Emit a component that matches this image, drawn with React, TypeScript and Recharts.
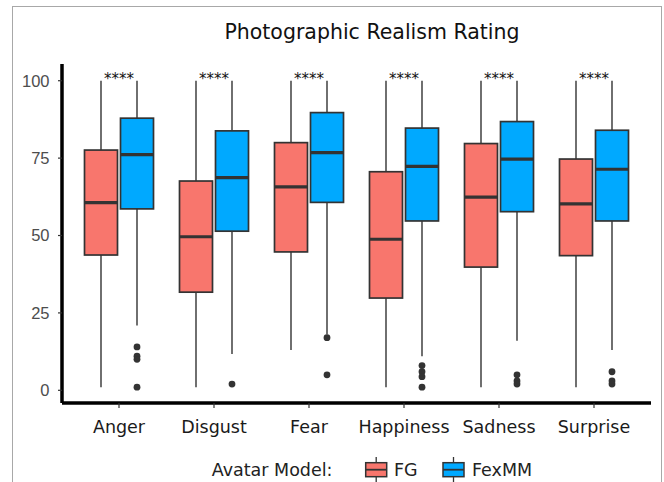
import React from 'react';
import { ComposedChart, Bar, XAxis, YAxis, Legend } from 'recharts';

const categories = ['Anger', 'Disgust', 'Fear', 'Happiness', 'Sadness', 'Surprise'];

const fgMin = [1, 1, 13, 1, 1, 1];
const fgQ1 = [43.7, 31.7, 44.7, 29.8, 39.8, 43.5];
const fgMedian = [60.6, 49.6, 65.7, 48.8, 62.4, 60.2];
const fgQ3 = [77.6, 67.6, 80, 70.6, 79.7, 74.7];
const fgMax = [100, 100, 100, 100, 100, 100];
const fgOutliers: number[][] = [[], [], [], [], [], []];

const fexMin = [20.9, 11.7, 18, 11, 16, 13];
const fexQ1 = [58.6, 51.4, 60.7, 54.7, 57.7, 54.7];
const fexMedian = [76.1, 68.7, 76.8, 72.3, 74.7, 71.4];
const fexQ3 = [87.9, 83.8, 89.7, 84.7, 86.8, 84];
const fexMax = [100, 100, 100, 100, 100, 100];
const fexOutliers: number[][] = [[14, 11, 10, 1], [2], [17, 5], [8, 6, 4.4, 1], [5, 3, 2], [6, 3, 2]];

const significance = ['****', '****', '****', '****', '****', '****'];
const yTicks = [0, 25, 50, 75, 100];
const seriesNames = ['FG', 'FexMM'];
const seriesColors = ['#F8766D', '#00A9FF'];

const makeStats = (i: number, mn: number[], q1: number[], md: number[], q3: number[], mx: number[], out: number[][]) => ({
  min: mn[i], q1: q1[i], median: md[i], q3: q3[i], max: mx[i], outliers: out[i],
});

const data = categories.map((c, i) => ({
  category: c,
  sig: significance[i],
  fg: makeStats(i, fgMin, fgQ1, fgMedian, fgQ3, fgMax, fgOutliers),
  fex: makeStats(i, fexMin, fexQ1, fexMedian, fexQ3, fexMax, fexOutliers),
  fgRange: [fgMin[i], fgMax[i]],
  fexRange: [fexMin[i], fexMax[i]],
}));

const EDGE = '#333333';

const makeShape = (series: 'fg' | 'fex', color: string) => (props: any) => {
  const { x, y, width, height, payload } = props;
  const s = payload[series];
  const k = height / (s.max - s.min);
  const toY = (v: number) => y + (s.max - v) * k;
  const cx = x + width / 2;
  return (
    <g>
      <line x1={cx} x2={cx} y1={toY(s.max)} y2={toY(s.q3)} stroke={EDGE} strokeWidth={1.4} />
      <line x1={cx} x2={cx} y1={toY(s.q1)} y2={toY(s.min)} stroke={EDGE} strokeWidth={1.4} />
      <rect x={x} y={toY(s.q3)} width={width} height={toY(s.q1) - toY(s.q3)} fill={color} stroke={EDGE} strokeWidth={1.7} />
      <line x1={x} x2={x + width} y1={toY(s.median)} y2={toY(s.median)} stroke={EDGE} strokeWidth={3.2} />
      {s.outliers.map((o: number, j: number) => (
        <circle key={j} cx={cx} cy={toY(o)} r={3.4} fill={EDGE} />
      ))}
      {series === 'fg' && (
        <text x={x + width + 1.5} y={toY(100) + 3} textAnchor="middle" fontFamily="DejaVu Sans" fontSize={15} fill="#111">
          {payload.sig}
        </text>
      )}
    </g>
  );
};

const KeyGlyph = ({ x, color }: { x: number; color: string }) => (
  <g>
    <line x1={x + 10.5} x2={x + 10.5} y1={5} y2={30} stroke={EDGE} strokeWidth={1.3} />
    <rect x={x} y={10.7} width={21} height={14} fill={color} stroke={EDGE} strokeWidth={1.5} />
    <line x1={x} x2={x + 21} y1={17.7} y2={17.7} stroke={EDGE} strokeWidth={1.8} />
  </g>
);

const LegendContent = () => (
  <svg width={664} height={30} style={{ display: 'block' }}>
    <text x={211.7} y={23.5} fontFamily="DejaVu Sans" fontSize={17.5} fill="#222">Avatar Model:</text>
    <KeyGlyph x={365.7} color={seriesColors[0]} />
    <text x={394} y={23.5} fontFamily="DejaVu Sans" fontSize={17.5} fill="#222">{seriesNames[0]}</text>
    <KeyGlyph x={443} color={seriesColors[1]} />
    <text x={472} y={23.5} fontFamily="DejaVu Sans" fontSize={17.5} fill="#222">{seriesNames[1]}</text>
  </svg>
);

export default function App() {
  return (
    <div style={{ position: 'absolute', left: 0, top: 0, width: 664, height: 482, background: '#fff', overflow: 'hidden' }}>
      <div style={{ position: 'absolute', left: 12, top: 6, width: 648, height: 500, borderLeft: '1.5px solid #a8a8a8', borderTop: '1.5px solid #a8a8a8', borderRight: '1.5px solid #a8a8a8' }} />
      <svg width={664} height={60} style={{ position: 'absolute', left: 0, top: 0 }}>
        <text x={372} y={39} textAnchor="middle" fontFamily="DejaVu Sans" fontSize={20.5} fill="#111">Photographic Realism Rating</text>
      </svg>
      <div style={{ position: 'absolute', left: 0, top: 0, width: 664, height: 482 }}>
        <ComposedChart width={664} height={482} data={data} margin={{ top: 64, right: 13, bottom: 39, left: 12 }} barSize={33} barGap={3}>
          <XAxis
            dataKey="category"
            padding={{ left: 9.5, right: 9.5 }}
            axisLine={{ stroke: '#000', strokeWidth: 3.5 }}
            tickLine={{ stroke: '#333', strokeWidth: 1.2 }}
            tickSize={5}
            tickMargin={13}
            height={40}
            tick={{ fontFamily: 'DejaVu Sans', fontSize: 17.5, fill: '#1a1a1a' }}
            interval={0}
          />
          <YAxis
            type="number"
            domain={[-4.1, 105.4]}
            allowDataOverflow
            ticks={yTicks}
            width={50}
            axisLine={{ stroke: '#000', strokeWidth: 3.5 }}
            tickLine={{ stroke: '#333', strokeWidth: 1.2 }}
            tickSize={4}
            tickMargin={8.5}
            tick={{ fontFamily: 'Liberation Sans', fontSize: 16.5, fill: '#4d4d4d' }}
          />
          <Bar dataKey="fgRange" name={seriesNames[0]} fill={seriesColors[0]} isAnimationActive={false} shape={makeShape('fg', seriesColors[0])} />
          <Bar dataKey="fexRange" name={seriesNames[1]} fill={seriesColors[1]} isAnimationActive={false} shape={makeShape('fex', seriesColors[1])} />
          <Legend
            layout="horizontal"
            verticalAlign="middle"
            align="center"
            content={() => <LegendContent />}
            wrapperStyle={{ position: 'absolute', left: 0, top: 452, width: 664, height: 30 }}
          />
        </ComposedChart>
      </div>
    </div>
  );
}
